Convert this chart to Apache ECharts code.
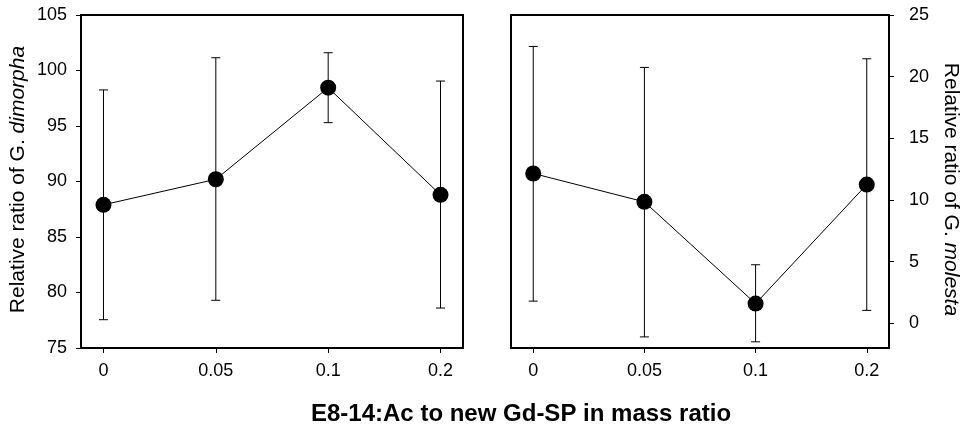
<!DOCTYPE html>
<html>
<head>
<meta charset="utf-8">
<script src="https://cdn.jsdelivr.net/npm/echarts@6/dist/echarts.min.js"></script>
<style>
html,body{margin:0;padding:0;background:#fff;}
#chart{width:962px;height:425px;}
</style>
</head>
<body>
<div id="chart"></div>
<script>
const categories = ['0', '0.05', '0.1', '0.2'];
const dimorphaMean = [87.9, 90.2, 98.45, 88.8];
const dimorphaUpper = [98.25, 101.15, 101.6, 99.05];
const dimorphaLower = [77.55, 79.3, 95.3, 78.6];
const molestaMean = [12.15, 9.85, 1.6, 11.25];
const molestaUpper = [22.45, 20.75, 4.75, 21.45];
const molestaLower = [1.8, -1.1, -1.5, 1.05];
const leftTicks = [75, 80, 85, 90, 95, 100, 105];
const rightTicks = [0, 5, 10, 15, 20, 25];
const xTitle = 'E8-14:Ac to new Gd-SP in mass ratio';

const FONT = '"Liberation Sans", Arial, sans-serif';
const catIdx = categories.map((c, i) => i);

function errData(lower, upper) {
  return catIdx.map(i => [i, lower[i], upper[i]]);
}
function lineData(mean) {
  return catIdx.map(i => [i, mean[i]]);
}
function renderErr(params, api) {
  const x = api.value(0);
  const lo = api.coord([x, api.value(1)]);
  const hi = api.coord([x, api.value(2)]);
  const half = 4.5;
  const st = { stroke: '#000', lineWidth: 1 };
  return {
    type: 'group',
    children: [
      { type: 'line', shape: { x1: lo[0], y1: lo[1], x2: hi[0], y2: hi[1] }, style: st },
      { type: 'line', shape: { x1: hi[0] - half, y1: hi[1], x2: hi[0] + half, y2: hi[1] }, style: st },
      { type: 'line', shape: { x1: lo[0] - half, y1: lo[1], x2: lo[0] + half, y2: lo[1] }, style: st }
    ]
  };
}

function xAxisDef(gi) {
  return {
    type: 'value', gridIndex: gi, min: -0.2, max: 3.2,
    axisLine: { show: true, onZero: false, lineStyle: { color: '#000', width: 2 } },
    axisTick: { show: true, inside: false, length: 5, customValues: catIdx, lineStyle: { color: '#000', width: 1 } },
    axisLabel: { show: true, margin: 14, fontSize: 18, color: '#000', fontFamily: FONT,
      customValues: catIdx, formatter: v => categories[Math.round(v)] },
    splitLine: { show: false }
  };
}

const chart = echarts.init(document.getElementById('chart'), null, { renderer: 'canvas' });
chart.setOption({
  animation: false,
  backgroundColor: '#fff',
  title: {
    text: xTitle, left: 306, top: 397,
    textStyle: { fontSize: 24, fontWeight: 'bold', color: '#000', fontFamily: FONT }
  },
  grid: [
    { left: 81, top: 15, width: 382, height: 333, show: true, borderColor: '#000', borderWidth: 2, backgroundColor: 'transparent', containLabel: false },
    { left: 511, top: 15, width: 382, height: 333, show: true, borderColor: '#000', borderWidth: 2, backgroundColor: 'transparent', containLabel: false }
  ],
  xAxis: [xAxisDef(0), xAxisDef(1)],
  yAxis: [
    {
      type: 'value', gridIndex: 0, min: 75, max: 105, position: 'left',
      axisLine: { show: true, onZero: false, lineStyle: { color: '#000', width: 2 } },
      axisTick: { show: true, inside: false, length: 5, customValues: leftTicks, lineStyle: { color: '#000', width: 1 } },
      axisLabel: { margin: 14, fontSize: 18, color: '#000', fontFamily: FONT, customValues: leftTicks },
      splitLine: { show: false },
      name: 'Relative ratio of G. {i|dimorpha}',
      nameLocation: 'middle', nameGap: 52, nameRotate: 90,
      nameTextStyle: { fontSize: 21, color: '#000', fontFamily: FONT, padding: [0, 0, 0, 4],
        rich: { i: { fontSize: 21, fontStyle: 'italic', color: '#000', fontFamily: FONT } } }
    },
    {
      type: 'value', gridIndex: 1, min: -2, max: 25, position: 'right',
      axisLine: { show: true, onZero: false, lineStyle: { color: '#000', width: 2 } },
      axisTick: { show: true, inside: false, length: 5, customValues: rightTicks, lineStyle: { color: '#000', width: 1 } },
      axisLabel: { margin: 20, fontSize: 18, color: '#000', fontFamily: FONT, customValues: rightTicks },
      splitLine: { show: false },
      name: 'Relative ratio of G. {i|molesta}',
      nameLocation: 'middle', nameGap: 51, nameRotate: -90,
      nameTextStyle: { fontSize: 21, color: '#000', fontFamily: FONT, padding: [0, 0, 0, 16],
        rich: { i: { fontSize: 21, fontStyle: 'italic', color: '#000', fontFamily: FONT } } }
    }
  ],
  series: [
    { type: 'custom', xAxisIndex: 0, yAxisIndex: 0, renderItem: renderErr, data: errData(dimorphaLower, dimorphaUpper), encode: { x: 0, y: [1, 2] }, z: 2 },
    { type: 'line', xAxisIndex: 0, yAxisIndex: 0, data: lineData(dimorphaMean), symbol: 'circle', symbolSize: 16,
      itemStyle: { color: '#000' }, lineStyle: { color: '#000', width: 1 }, z: 3 },
    { type: 'custom', xAxisIndex: 1, yAxisIndex: 1, renderItem: renderErr, data: errData(molestaLower, molestaUpper), encode: { x: 0, y: [1, 2] }, z: 2 },
    { type: 'line', xAxisIndex: 1, yAxisIndex: 1, data: lineData(molestaMean), symbol: 'circle', symbolSize: 16,
      itemStyle: { color: '#000' }, lineStyle: { color: '#000', width: 1 }, z: 3 }
  ]
});
</script>
</body>
</html>
